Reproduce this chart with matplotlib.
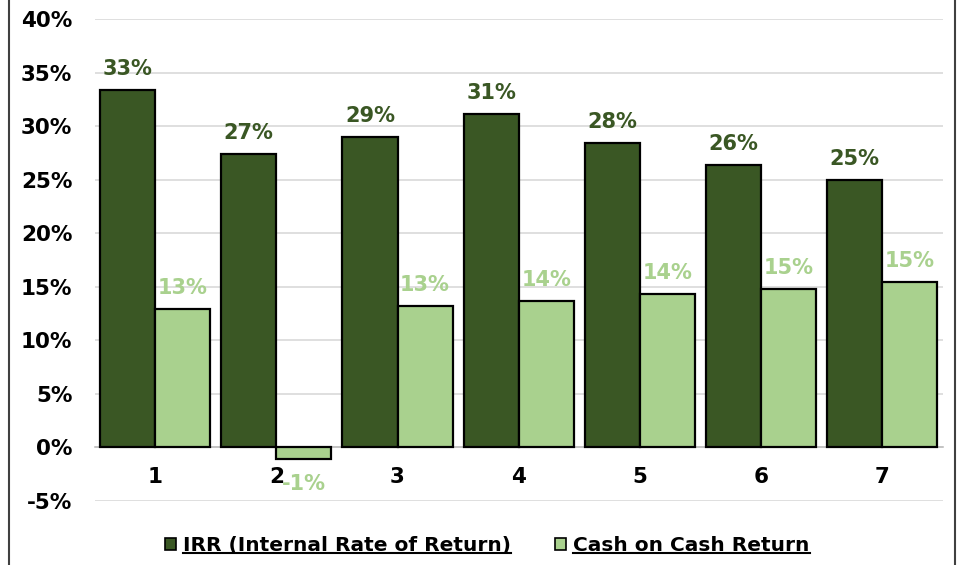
import matplotlib.pyplot as plt
from matplotlib.lines import Line2D
from matplotlib.patches import Patch
import numpy as np

# data (percent)
years = ['1', '2', '3', '4', '5', '6', '7']
irr = [33.4, 27.4, 29.0, 31.1, 28.4, 26.4, 25.0]
coc = [12.9, -1.1, 13.2, 13.7, 14.3, 14.8, 15.4]
irr_labels = ['33%', '27%', '29%', '31%', '28%', '26%', '25%']
coc_labels = ['13%', '-1%', '13%', '14%', '14%', '15%', '15%']
yticks = [-5, 0, 5, 10, 15, 20, 25, 30, 35, 40]

dark = '#3a5724'
light = '#a9d18e'
font = 'DejaVu Sans'

fig = plt.figure(figsize=(9.65, 5.65), dpi=100)
ax = fig.add_axes([0.098, 0.1133, 0.879, 0.8531])

x = np.arange(len(years))
w = 0.4545
ax.bar(x - w / 2, irr, w, color=dark, edgecolor='black', linewidth=1.6, zorder=3)
ax.bar(x + w / 2, coc, w, color=light, edgecolor='black', linewidth=1.6, zorder=3)

for i in range(len(years)):
    ax.annotate(irr_labels[i], (x[i] - w / 2, irr[i]), xytext=(0, 8), textcoords='offset points',
                ha='center', va='bottom', color=dark, fontsize=15, fontweight='bold', family=font)
    if coc[i] >= 0:
        ax.annotate(coc_labels[i], (x[i] + w / 2, coc[i]), xytext=(0, 8), textcoords='offset points',
                    ha='center', va='bottom', color=light, fontsize=15, fontweight='bold', family=font)
    else:
        ax.annotate(coc_labels[i], (x[i] + w / 2, coc[i]), xytext=(0, -11), textcoords='offset points',
                    ha='center', va='top', color=light, fontsize=15, fontweight='bold', family=font)

ax.spines['bottom'].set_position(('data', 0))
ax.spines['bottom'].set_color('#bfbfbf')
ax.spines['bottom'].set_linewidth(1.2)
for s in ['top', 'right', 'left']:
    ax.spines[s].set_visible(False)

ax.set_xlim(-0.5, 6.5)
ax.set_ylim(-5, 40)
ax.set_yticks(yticks)
ax.set_yticklabels(['{}%'.format(v) for v in yticks])
ax.set_xticks(x)
ax.set_xticklabels(years)
ax.tick_params(axis='both', length=0, labelsize=15.5)
ax.tick_params(axis='x', pad=14)
ax.tick_params(axis='y', pad=16)
for lab in ax.get_xticklabels() + ax.get_yticklabels():
    lab.set_fontweight('bold')
    lab.set_family(font)

ax.grid(axis='y', color='#d9d9d9', linewidth=1.2, zorder=0)

handles = [Patch(facecolor=dark, edgecolor='black', linewidth=1.2),
           Patch(facecolor=light, edgecolor='black', linewidth=1.2)]
leg = fig.legend(handles, ['IRR (Internal Rate of Return)', 'Cash on Cash Return'],
                 loc='center', bbox_to_anchor=(0.505, 0.035), ncol=2, frameon=False,
                 handlelength=0.55, handleheight=0.55, handletextpad=0.35, columnspacing=2.2,
                 prop={'family': font, 'weight': 'bold', 'size': 14.5})

# underline legend texts
fig.canvas.draw()
inv = fig.transFigure.inverted()
for t in leg.get_texts():
    bb = t.get_window_extent()
    (x0, y0), (x1, _) = inv.transform([(bb.x0, bb.y0 + 2), (bb.x1, bb.y0)])
    fig.add_artist(Line2D([x0, x1], [y0, y0], color='black', linewidth=1.5, transform=fig.transFigure))

# chart frame edges
fig.add_artist(Line2D([0.009, 0.009], [0, 1], color='#404040', linewidth=1.5, transform=fig.transFigure))
fig.add_artist(Line2D([0.99, 0.99], [0, 1], color='#404040', linewidth=1.5, transform=fig.transFigure))

fig.savefig('out.png', dpi=100)
